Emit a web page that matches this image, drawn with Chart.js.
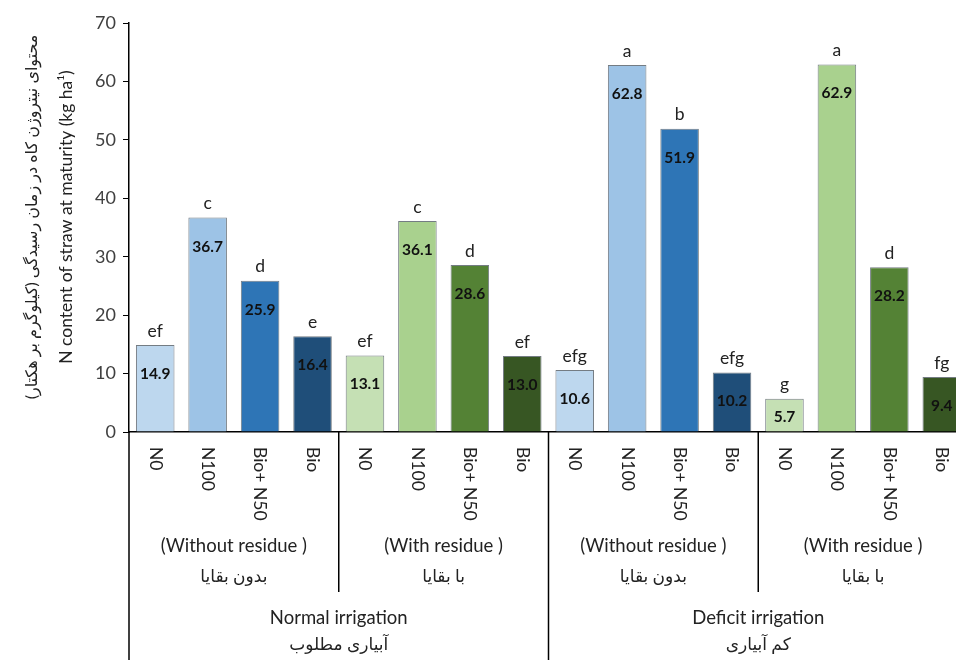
<!DOCTYPE html>
<html>
<head>
<meta charset="utf-8">
<script src="https://cdn.jsdelivr.net/npm/chart.js@4"></script>
<style>
  html, body { margin: 0; padding: 0; background: #fff; overflow: hidden; }
  #wrap { width: 972px; height: 660px; }
</style>
</head>
<body>
<div id="wrap"><canvas id="myChart" width="972" height="660"></canvas></div>
<script>
// Data
const treatments = ["N0", "N100", "Bio+ N50", "Bio", "N0", "N100", "Bio+ N50", "Bio",
                    "N0", "N100", "Bio+ N50", "Bio", "N0", "N100", "Bio+ N50", "Bio"];
const nContent = [14.9, 36.7, 25.9, 16.4, 13.1, 36.1, 28.6, 13.0,
                  10.6, 62.8, 51.9, 10.2, 5.7, 62.9, 28.2, 9.4];
const letters = ["ef", "c", "d", "e", "ef", "c", "d", "ef",
                 "efg", "a", "b", "efg", "g", "a", "d", "fg"];
const residueEn = ["(Without residue )", "(With residue )", "(Without residue )", "(With residue )"];
const residueFa = ["بدون بقایا", "با بقایا", "بدون بقایا", "با بقایا"];
const irrigationEn = ["Normal irrigation", "Deficit irrigation"];
const irrigationFa = ["آبیاری مطلوب", "کم آبیاری"];
const yTicks = [0, 10, 20, 30, 40, 50, 60, 70];

const blues = ["#bdd7ee", "#9dc3e6", "#2e75b6", "#1f4e79"];
const greens = ["#c5e0b4", "#a9d18e", "#548235", "#375623"];
const barColors = [...blues, ...greens, ...blues, ...greens];

const FONT = "Lato, 'DejaVu Sans', sans-serif";

// draws letters, values, rotated category labels and group labels
const annotate = {
  id: "annotate",
  afterDatasetsDraw(chart) {
    const ctx = chart.ctx;
    const x = chart.scales.x;
    const area = chart.chartArea;
    const meta = chart.getDatasetMeta(0);
    ctx.save();

    meta.data.forEach((bar, i) => {
      const h = bar.base - bar.y;
      ctx.textAlign = "center";
      ctx.textBaseline = "middle";
      ctx.fillStyle = "#111";
      ctx.font = "bold 15.5px " + FONT;
      ctx.fillText(nContent[i].toFixed(1), bar.x, bar.y + Math.min(29, h / 2 + 2));
      ctx.fillStyle = "#222";
      ctx.font = "17.5px " + FONT;
      ctx.fillText(letters[i], bar.x, bar.y - 14);

      // category label, rotated clockwise
      ctx.save();
      ctx.translate(bar.x, area.bottom + 15);
      ctx.rotate(Math.PI / 2);
      ctx.textAlign = "left";
      ctx.font = "17.5px " + FONT;
      ctx.fillText(treatments[i], 0, 0);
      ctx.restore();
    });

    // separator lines
    const edge = k => x.getPixelForValue(k - 0.5);
    ctx.strokeStyle = "#000";
    ctx.lineWidth = 1.5;
    [[0, 660], [4, 592], [8, 660], [12, 592]].forEach(([k, y2]) => {
      const px = k === 0 ? area.left : edge(k);
      ctx.beginPath();
      ctx.moveTo(px, area.bottom);
      ctx.lineTo(px, y2);
      ctx.stroke();
    });

    ctx.textAlign = "center";
    ctx.textBaseline = "middle";
    ctx.fillStyle = "#222";
    for (let g = 0; g < 4; g++) {
      const cx = (edge(g * 4) + edge(g * 4 + 4)) / 2;
      ctx.font = "18.5px " + FONT;
      ctx.fillText(residueEn[g], cx, 546);
      ctx.font = "17px " + FONT;
      ctx.fillText(residueFa[g], cx, 577);
    }
    for (let g = 0; g < 2; g++) {
      const cx = (edge(g * 8) + edge(g * 8 + 8)) / 2;
      ctx.font = "18.5px " + FONT;
      ctx.fillText(irrigationEn[g], cx, 618);
      ctx.font = "17px " + FONT;
      ctx.fillText(irrigationFa[g], cx, 645);
    }

    // y axis title (two lines)
    ctx.save();
    ctx.translate(66, 217);
    ctx.rotate(-Math.PI / 2);
    ctx.font = "17.5px " + FONT;
    ctx.fillText("N content of straw at maturity (kg ha¹)", 0, 0);
    ctx.font = "16px " + FONT;
    ctx.fillText("محتوای نیتروژن کاه در زمان رسیدگی (کیلوگرم بر هکتار)", 0, -34);
    ctx.restore();

    ctx.restore();
  }
};

new Chart(document.getElementById("myChart").getContext("2d"), {
  type: "bar",
  data: {
    labels: treatments.map((t, i) => t + "_" + i),
    datasets: [{
      data: nContent,
      backgroundColor: barColors,
      borderColor: "rgba(70,80,90,0.75)",
      borderWidth: 1,
      barPercentage: 0.735,
      categoryPercentage: 1
    }]
  },
  options: {
    responsive: false,
    animation: false,
    layout: { padding: { top: 23, right: 4, bottom: 0, left: 0 } },
    plugins: { legend: { display: false }, tooltip: { enabled: false } },
    scales: {
      x: {
        ticks: { display: false },
        grid: { display: false },
        border: { display: true, color: "#000", width: 1.5 },
        afterFit(scale) { scale.height = 228; }
      },
      y: {
        min: 0,
        max: 70,
        afterBuildTicks(scale) { scale.ticks = yTicks.map(v => ({ value: v })); },
        ticks: { color: "#404040", font: { family: FONT, size: 18 }, padding: 7 },
        grid: { drawOnChartArea: false, drawTicks: true, tickLength: 6, color: "#000" },
        border: { display: true, color: "#000", width: 1.5 },
        afterFit(scale) { scale.width = 129; }
      }
    }
  },
  plugins: [annotate]
});
</script>
</body>
</html>
